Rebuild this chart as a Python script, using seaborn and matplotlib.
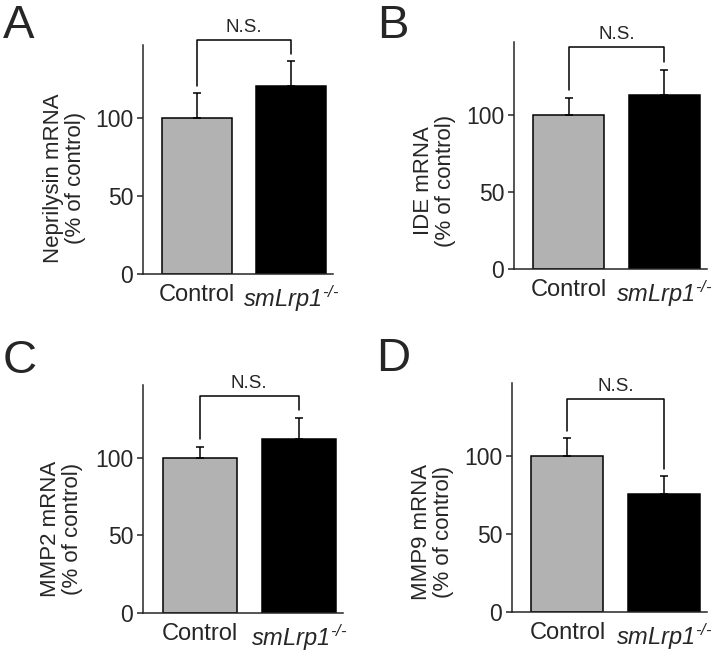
import pandas as pd
import matplotlib
matplotlib.use("Agg")
import matplotlib.pyplot as plt
import seaborn as sns

groups = ["Control", r"$\mathrm{smLrp1}^{\text{-/-}}$"]
panels = ["A", "B", "C", "D"]
ylabels = ["Neprilysin mRNA", "IDE mRNA", "MMP2 mRNA", "MMP9 mRNA"]
means = [[100, 120.5], [100, 113], [100, 112], [100, 76]]
errs = [[16, 16], [11, 16], [7, 14], [11.5, 11]]
bracket_y = [150.5, 144, 140, 137]

sns.set_style("ticks")
plt.rcParams["font.family"] = ["Liberation Sans", "DejaVu Sans"]
plt.rcParams["mathtext.fontset"] = "custom"
plt.rcParams["mathtext.rm"] = "Liberation Sans:italic"
plt.rcParams["mathtext.it"] = "Liberation Sans:italic"

fig = plt.figure(figsize=(7.2, 6.52), dpi=100)

# axes boxes in pixels: left, right, top, bottom(zero line)
boxes = [(143, 333, 45, 274), (514, 707, 42, 269),
         (143, 343, 385, 613), (512, 707, 383, 612)]
letter_pos = [(3, 38), (377, 38), (3, 373), (376, 371)]
label_y = [0.42, 0.39, 0.37, 0.35]

for i in range(4):
    l, r, t, b = boxes[i]
    ax = fig.add_axes([l / 720, 1 - b / 652, (r - l) / 720, (b - t) / 652])
    df = pd.DataFrame({"group": groups, "value": means[i]})
    sns.barplot(data=df, x="group", y="value", hue="group",
                palette=["#b2b2b2", "black"], width=0.745, edgecolor="black",
                linewidth=1.1, errorbar=None, legend=False, ax=ax)
    ax.errorbar([0, 1], means[i], yerr=[[0, 0], errs[i]], fmt="none",
                ecolor="black", elinewidth=1.1, capsize=3, capthick=1.1)

    # N.S. bracket
    tops = [m + e + 5 for m, e in zip(means[i], errs[i])]
    yb = bracket_y[i]
    ax.plot([0, 0, 1, 1], [tops[0], yb, yb, tops[1]], color="black",
            lw=1.1, clip_on=False)
    ax.text(0.5, yb + 2.5, "N.S.", ha="center", va="bottom", fontsize=13.5)

    ax.set_xlim(-0.574, 1.447)
    ax.set_ylim(0, 147)
    ax.set_yticks([0, 50, 100])
    ax.set_xlabel("")
    ax.set_ylabel(ylabels[i] + "\n(% of control)", fontsize=16, linespacing=1.05)
    ax.yaxis.set_label_coords(-0.30, label_y[i])
    ax.tick_params(axis="x", length=0, labelsize=17, pad=7)
    ax.tick_params(axis="y", length=4, width=1.1, labelsize=16.5, pad=3)
    sns.despine(ax=ax)
    for s in ["left", "bottom"]:
        ax.spines[s].set_linewidth(1.1)

    fig.text(letter_pos[i][0] / 720, 1 - letter_pos[i][1] / 652, panels[i],
             fontsize=34, va="baseline", ha="left")

fig.savefig("out.png", dpi=100)
